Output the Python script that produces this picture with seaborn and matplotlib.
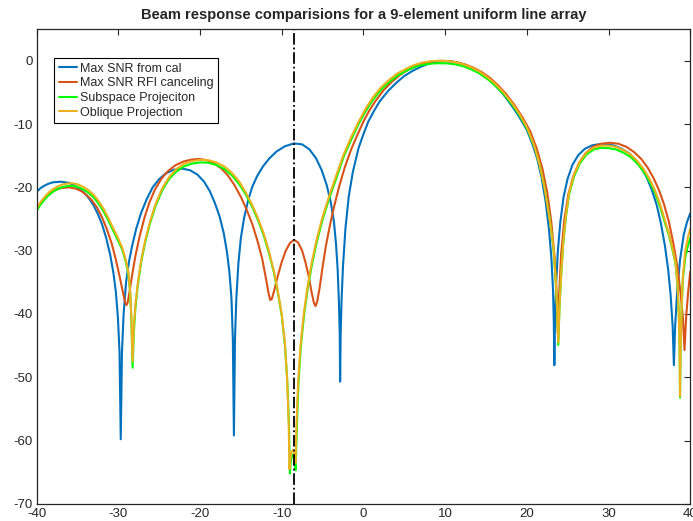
import numpy as np
import pandas as pd
import seaborn as sns
import matplotlib
matplotlib.use("Agg")
import matplotlib.pyplot as plt

# values (angle in deg, response in dB)
cal_x = [-40, -39.5, -39, -38.5, -38, -37, -36, -35.5, -35, -34.5, -34, -33.5, -33, -32.5, -32, -31.5, -31,
         -30.6, -30.3, -30.05, -29.85, -29.7, -29.55, -29.35, -29.05, -28.7, -28.3, -27.8, -27.2, -26.5,
         -25.8, -25, -24.2, -23.2, -22.1, -21.2, -20.3, -19.5, -18.8, -18.2, -17.6, -17.1, -16.7, -16.4,
         -16.15, -15.98, -15.85, -15.72, -15.55, -15.3, -15.0, -14.6, -14.1, -13.6, -13.0, -12.3, -11.5,
         -10.6, -9.6, -8.5, -7.5, -6.6, -5.8, -5.1, -4.5, -4.0, -3.6, -3.35, -3.15, -3.0, -2.9, -2.85,
         -2.78, -2.68, -2.5, -2.2, -1.8, -1.3, -0.6, 0.0, 0.6, 1.3, 2.0, 3.0, 4.0, 5.0, 6.0, 7.0, 8.0,
         9.0, 10, 11, 12, 13, 14, 15, 16, 17, 18, 19, 20, 20.7, 21.3, 21.8, 22.3, 22.7, 23.0, 23.2, 23.3,
         23.37, 23.45, 23.6, 23.8, 24.1, 24.5, 25.0, 25.6, 26.3, 27.1, 28.0, 29.0, 29.8, 30.7, 31.6, 32.5,
         33.3, 34.0, 34.7, 35.3, 35.9, 36.4, 36.9, 37.3, 37.6, 37.85, 38.0, 38.15, 38.4, 38.75, 39.2,
         39.6, 40.0]
cal_y = [-20.7, -20.1, -19.7, -19.4, -19.2, -19.1, -19.3, -19.6, -20.0, -20.5, -21.1, -21.9, -22.9, -24.2,
         -25.8, -27.9, -30.6, -33.5, -36.5, -40.5, -46, -59.8, -46, -40, -35, -31.8, -29.2, -26.5, -24,
         -21.8, -20, -18.7, -17.8, -17.2, -17.05, -17.3, -18.0, -19.1, -20.6, -22.4, -24.6, -27.2, -30.2,
         -33.4, -37.5, -44, -59.2, -44, -37.5, -32, -28, -24.8, -22, -19.9, -18.2, -16.7, -15.4, -14.3,
         -13.5, -13.05, -13.2, -14, -15.4, -17.3, -19.6, -22.3, -25.5, -29, -33, -38, -43, -50.7, -43,
         -38, -32.5, -26.5, -21.5, -17.6, -13.8, -11.6, -9.6, -7.9, -6.4, -4.8, -3.5, -2.4, -1.6, -0.95,
         -0.45, -0.15, -0.05, -0.15, -0.45, -0.95, -1.65, -2.55, -3.7, -5.1, -6.8, -8.7, -10.9, -13.2,
         -15.6, -18.4, -22.2, -26.5, -31, -36, -41, -48.1, -41, -35, -30, -25.5, -21.5, -18.6, -16.4,
         -14.9, -13.9, -13.35, -13.15, -13.2, -13.4, -13.9, -14.6, -15.6, -16.9, -18.5, -20.4, -22.8,
         -25.6, -29.2, -33, -37, -42, -48.1, -42, -36.5, -31.5, -27.5, -25.5, -24.1]

rfi_x = [-40, -39.5, -39, -38.5, -38, -37.5, -37, -36, -35.2, -34.5, -33.8, -33.2, -32.6, -32, -31.4, -30.8,
         -30.3, -29.8, -29.4, -29.15, -29.0, -28.85, -28.6, -28.3, -27.9, -27.4, -26.8, -26.2, -25.5,
         -24.7, -23.9, -23, -22, -21, -20.1, -19.2, -18.3, -17.4, -16.6, -15.8, -15.0, -14.3, -13.6,
         -13.0, -12.4, -11.9, -11.6, -11.4, -11.2, -10.9, -10.5, -10.0, -9.5, -9.0, -8.5, -8.0, -7.5,
         -7.1, -6.7, -6.35, -6.05, -5.85, -5.65, -5.35, -5.0, -4.6, -4.1, -3.6, -3.0, -2.3, -1.5, -0.7,
         0.0, 0.7, 1.5, 2.5, 3.5, 4.5, 5.5, 6.5, 7.5, 8.5, 9.5, 10.5, 11.5, 12.5, 13.5, 14.5, 15.5, 16.5,
         17.5, 18.5, 19.5, 20.4, 21.2, 21.9, 22.5, 23.0, 23.4, 23.65, 23.8, 23.95, 24.2, 24.6, 25.1,
         25.7, 26.4, 27.2, 28.1, 29.1, 30.2, 31.2, 32.2, 33.1, 34.0, 34.8, 35.5, 36.2, 36.8, 37.4, 37.9,
         38.4, 38.8, 39.1, 39.3, 39.5, 39.75, 40.0]
rfi_y = [-23.4, -22.5, -21.7, -21.1, -20.6, -20.3, -20.1, -20.0, -20.2, -20.6, -21.3, -22.1, -23.2, -24.7,
         -26.6, -28.9, -31.4, -34.3, -36.8, -38.2, -38.6, -38.2, -36.3, -33.8, -30.8, -27.8, -24.8, -22.4,
         -20.3, -18.6, -17.4, -16.5, -15.9, -15.6, -15.5, -15.7, -16.2, -17.0, -18.1, -19.6, -21.5, -23.5,
         -25.8, -28.3, -31.2, -34.6, -36.8, -37.8, -37.6, -36.2, -34.1, -31.8, -30.0, -28.8, -28.3, -28.7,
         -30.0, -31.8, -34.0, -36.5, -38.3, -38.75, -38.0, -35.8, -32.6, -29.3, -26.0, -23.1, -20.0, -16.9,
         -14.0, -11.6, -9.6, -7.9, -6.3, -4.6, -3.3, -2.2, -1.4, -0.8, -0.35, -0.1, 0, -0.05, -0.25, -0.6,
         -1.1, -1.8, -2.7, -3.9, -5.3, -7.0, -9.0, -11.1, -13.8, -17.0, -20.8, -25.5, -31, -37, -43, -37,
         -30.5, -25, -21, -18.2, -16.1, -14.6, -13.6, -13.1, -12.95, -13.1, -13.6, -14.4, -15.5, -16.9,
         -18.5, -20.5, -22.7, -25.5, -28.6, -32.3, -36.5, -40.5, -45.7, -40.5, -36.5, -33.3]

sub_x = [-40, -39.5, -39, -38.5, -38, -37.5, -37, -36.3, -35.6, -35, -34.3, -33.6, -33, -32.4, -31.8, -31.2,
         -30.6, -30.0, -29.5, -29.1, -28.8, -28.55, -28.4, -28.25, -28.1, -27.9, -27.6, -27.2, -26.7,
         -26.1, -25.4, -24.6, -23.8, -22.9, -22, -21, -20, -19, -18, -17, -16.1, -15.2, -14.4, -13.6,
         -12.9, -12.2, -11.6, -11.0, -10.5, -10.0, -9.6, -9.3, -9.1, -9.0, -8.9, -8.75, -8.6, -8.45, -8.3,
         -8.15, -7.95, -7.65, -7.25, -6.8, -6.3, -5.7, -5.0, -4.2, -3.3, -2.4, -1.5, -0.6, 0.3, 1.2, 2.2,
         3.2, 4.2, 5.2, 6.2, 7.2, 8.2, 9.2, 10.2, 11.2, 12.2, 13.2, 14.2, 15.2, 16.2, 17.2, 18.2, 19.2,
         20.1, 20.9, 21.6, 22.2, 22.8, 23.25, 23.5, 23.7, 23.85, 24.0, 24.2, 24.45, 24.8, 25.2, 25.8,
         26.5, 27.3, 28.2, 29.1, 30.0, 30.9, 31.8, 32.7, 33.5, 34.3, 35.0, 35.7, 36.3, 36.9, 37.4, 37.85,
         38.2, 38.45, 38.6, 38.7, 38.75, 38.82, 38.92, 39.1, 39.4, 39.7, 40.0]
sub_y = [-23.7, -22.7, -21.9, -21.2, -20.7, -20.3, -20.0, -19.8, -19.75, -19.9, -20.3, -20.9, -21.6, -22.6,
         -23.8, -25.3, -26.9, -28.5, -29.9, -31.7, -33.4, -36.5, -41, -48.5, -43, -39, -35.3, -31.8, -28.6,
         -25.6, -22.8, -20.4, -18.7, -17.5, -16.7, -16.25, -16.05, -16.1, -16.45, -17.1, -18.1, -19.5,
         -21.1, -23.1, -25.2, -27.6, -30.2, -33.2, -36.4, -40.2, -45, -51, -58, -65.2, -63.5, -62.3, -62.2,
         -62.8, -64.7, -58, -51, -45, -40, -35.9, -32.2, -28.6, -25.1, -21.8, -18.5, -15.1, -12.5, -10.0,
         -7.9, -6.1, -4.5, -3.3, -2.3, -1.6, -1.0, -0.65, -0.45, -0.38, -0.4, -0.55, -0.85, -1.35, -2.0,
         -2.9, -4.0, -5.3, -6.9, -8.8, -10.9, -13.5, -16.6, -20.2, -25, -29.5, -34, -39, -44.9, -39, -34,
         -29, -24.5, -21, -18.2, -16.2, -14.8, -14.0, -13.75, -13.8, -14.0, -14.5, -15.2, -16.2, -17.5,
         -19.0, -20.9, -23.0, -25.6, -27.6, -30, -32, -35.5, -40, -45, -53.2, -45, -40, -34.5, -31, -29.3,
         -28.0]

obl_x = [-40, -39.5, -39, -38.5, -38, -37.5, -37, -36.3, -35.6, -35, -34.3, -33.6, -33, -32.4, -31.8, -31.2,
         -30.6, -30.0, -29.5, -29.1, -28.8, -28.55, -28.4, -28.25, -28.1, -27.9, -27.6, -27.2, -26.7,
         -26.1, -25.4, -24.6, -23.8, -22.9, -22, -21, -20, -19, -18, -17, -16.1, -15.2, -14.4, -13.6,
         -12.9, -12.2, -11.6, -11.0, -10.5, -10.0, -9.6, -9.35, -9.15, -9.05, -8.95, -8.8, -8.6, -8.45,
         -8.3, -8.2, -8.0, -7.7, -7.3, -6.85, -6.35, -5.75, -5.05, -4.25, -3.35, -2.45, -1.55, -0.65, 0.25,
         1.15, 2.15, 3.15, 4.15, 5.15, 6.15, 7.15, 8.15, 9.15, 10.15, 11.15, 12.15, 13.15, 14.15, 15.15,
         16.15, 17.15, 18.15, 19.15, 20.05, 20.85, 21.55, 22.15, 22.75, 23.25, 23.5, 23.7, 23.85, 24.0,
         24.2, 24.45, 24.8, 25.2, 25.8, 26.5, 27.3, 28.2, 29.1, 30.0, 30.9, 31.8, 32.7, 33.5, 34.3, 35.0,
         35.7, 36.3, 36.9, 37.4, 37.85, 38.2, 38.45, 38.6, 38.7, 38.75, 38.82, 38.92, 39.1, 39.4, 39.7,
         40.0]
obl_y = [-23.3, -22.3, -21.5, -20.8, -20.3, -19.9, -19.6, -19.4, -19.35, -19.5, -19.9, -20.5, -21.2, -22.2,
         -23.4, -24.9, -26.5, -28.1, -29.6, -31.4, -33.1, -36.3, -40.5, -47.5, -42, -38.5, -35, -31.5, -28.3,
         -25.3, -22.5, -20.1, -18.4, -17.1, -16.3, -15.85, -15.65, -15.7, -16.05, -16.7, -17.7, -19.1,
         -20.8, -22.8, -24.9, -27.3, -29.9, -33.0, -36.2, -40, -44.8, -50, -57, -64.5, -63, -61.8, -61.5,
         -62, -63.5, -58, -51, -45, -40, -35.8, -32, -28.4, -24.9, -21.6, -18.2, -14.9, -12.2, -9.8, -7.6,
         -5.8, -4.2, -3.0, -2.0, -1.3, -0.7, -0.3, -0.08, 0, -0.02, -0.2, -0.5, -1.0, -1.65, -2.55, -3.65,
         -5.0, -6.6, -8.5, -10.6, -13.2, -16.3, -19.9, -24.7, -29.3, -33.8, -38.8, -44.5, -38.8, -33.8,
         -28.8, -24.2, -20.7, -17.9, -15.9, -14.5, -13.7, -13.4, -13.4, -13.6, -14.1, -14.8, -15.8, -17.1,
         -18.6, -20.5, -22.6, -25.2, -27.3, -29.7, -31.8, -35.3, -40, -45, -53, -45, -40, -34, -30, -28,
         -26.5]

labels = ["Max SNR from cal", "Max SNR RFI canceling", "Subspace Projeciton", "Oblique Projection"]
colors = ["#0072BD", "#D95319", "#00FF00", "#EDB120"]
rfi_angle = -8.5
x_ticks = [-40, -30, -20, -10, 0, 10, 20, 30, 40]
y_ticks = [-70, -60, -50, -40, -30, -20, -10, 0]

frames = []
for name, xs, ys in zip(labels, [cal_x, rfi_x, sub_x, obl_x], [cal_y, rfi_y, sub_y, obl_y]):
    frames.append(pd.DataFrame({"angle": xs, "gain": ys, "method": name}))
df = pd.concat(frames, ignore_index=True)

sns.set_style("white")
plt.rcParams["font.family"] = ["Liberation Sans", "DejaVu Sans"]
plt.rcParams["axes.unicode_minus"] = False

fig = plt.figure(figsize=(6.93, 5.21), dpi=100)
ax = fig.add_axes([0.0528, 0.033, 0.9432, 0.911])

sns.lineplot(data=df, x="angle", y="gain", hue="method", hue_order=labels,
             palette=colors, estimator=None, linewidth=1.5, ax=ax)
ax.axvline(rfi_angle, color="black", linestyle="-.", linewidth=1.3)

ax.set_xlim(-40, 40)
ax.set_ylim(-70, 5)
ax.set_xticks(x_ticks)
ax.set_yticks(y_ticks)
ax.set_xlabel("")
ax.set_ylabel("")
ax.tick_params(direction="in", length=4, width=0.8, top=True, right=True,
               labelsize=9.5, colors="#262626", pad=3)
for sp in ax.spines.values():
    sp.set_color("#262626")
    sp.set_linewidth(0.9)
ax.set_title("Beam response comparisions for a 9-element uniform line array",
             fontsize=10.5, fontweight="bold", pad=7)

handles, _ = ax.get_legend_handles_labels()
leg = ax.legend(handles, labels, loc="upper left", bbox_to_anchor=(0.027, 0.939),
                fontsize=9, handlelength=1.45, handletextpad=0.25, borderpad=0.35,
                labelspacing=0.22, fancybox=False, framealpha=1, borderaxespad=0)
leg.get_frame().set_edgecolor("black")
leg.get_frame().set_linewidth(0.8)

fig.savefig("out.png", dpi=100)
